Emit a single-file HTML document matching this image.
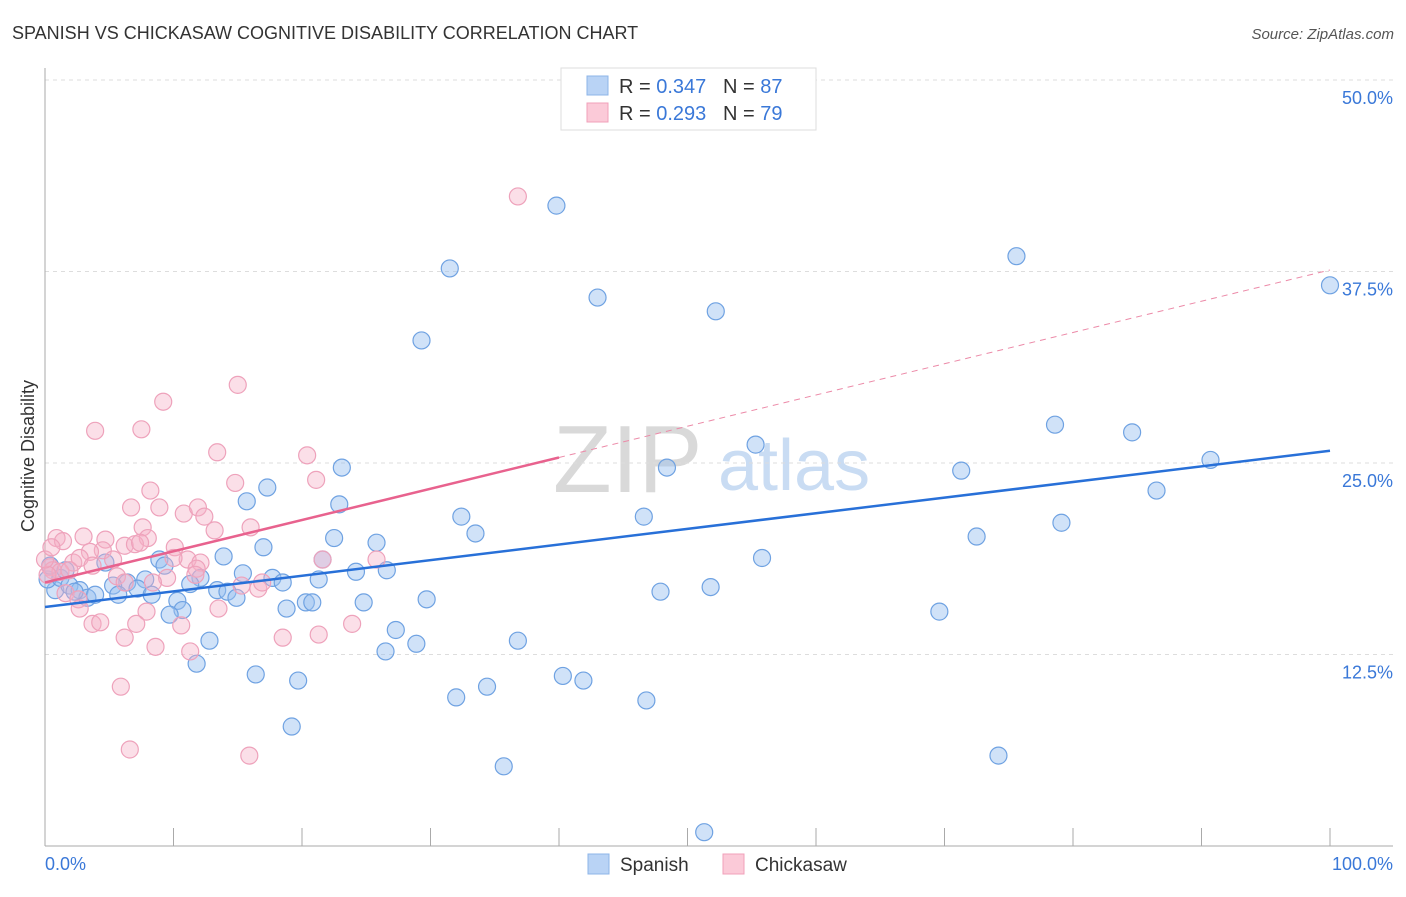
<!DOCTYPE html>
<html><head><meta charset="utf-8"><style>
body{margin:0;background:#fff;font-family:"Liberation Sans",sans-serif}
svg text{font-family:"Liberation Sans",sans-serif}
</style></head><body>
<svg id="chart" width="1406" height="892" xmlns="http://www.w3.org/2000/svg">
<text x="12" y="39" font-size="18" fill="#333">SPANISH VS CHICKASAW COGNITIVE DISABILITY CORRELATION CHART</text>
<text x="1394" y="39" font-size="15" fill="#555" font-style="italic" text-anchor="end">Source: ZipAtlas.com</text>
<g>
<text x="553" y="492" font-size="96" font-family="Liberation Serif" fill="#d9d9d9">ZIP</text>
<text x="718" y="490" font-size="72" fill="#c9dcf3">atlas</text>
</g>
<g id="grid"></g>
<g id="axes"></g>
<g id="marks"></g>
<text transform="translate(34,456) rotate(-90)" font-size="18" fill="#333" text-anchor="middle">Cognitive Disability</text>
<g>
<rect x="561" y="68" width="255" height="62" fill="#fff" stroke="#ddd"/>
<rect x="587" y="76" width="21" height="19" fill="#b9d3f5" stroke="#8db4e8"/>
<text x="619" y="93" font-size="20" fill="#333">R = <tspan fill="#3a78d8">0.347</tspan>&#160;&#160;&#160;N = <tspan fill="#3a78d8">87</tspan></text>
<rect x="587" y="103" width="21" height="19" fill="#fbcad8" stroke="#f0a0ba"/>
<text x="619" y="120" font-size="20" fill="#333">R = <tspan fill="#3a78d8">0.293</tspan>&#160;&#160;&#160;N = <tspan fill="#3a78d8">79</tspan></text>
</g>
<g>
<rect x="588" y="854" width="21" height="20" fill="#b9d3f5" stroke="#8db4e8"/>
<text x="620" y="871" font-size="19" fill="#333">Spanish</text>
<rect x="723" y="854" width="21" height="20" fill="#fbcad8" stroke="#f0a0ba"/>
<text x="755" y="871" font-size="19" fill="#333">Chickasaw</text>
</g>
</svg>
<script>
const yTicks=[12.5,25,37.5,50];
const yTickLabels=["12.5%","25.0%","37.5%","50.0%"];
const xTickLabels=["0.0%","100.0%"];
const spanishX=[39.8,31.5,75.6,43.0,52.2,100,29.3,78.6,84.6,55.3,90.7,23.1,48.4,71.3,86.5,17.3,15.7,22.9,32.4,46.6,79.1,33.5,22.5,72.5,25.8,17.0,13.9,55.8,8.9,21.6,4.7,9.3,24.2,26.6,15.4,12.1,17.7,21.3,18.5,7.8,6.4,5.3,11.3,13.4,7.2,51.8,5.7,8.3,14.2,47.9,14.9,10.3,20.3,20.8,24.8,29.7,18.8,10.7,9.7,69.6,27.3,12.8,36.8,28.9,26.5,11.8,16.4,40.3,41.9,19.7,34.4,32.0,46.8,19.2,74.2,35.7,51.3,0.8,0.2,1.2,1.9,2.7,3.3,3.9,0.4,1.6,2.3];
const spanishY=[41.8,37.7,38.5,35.8,34.9,36.6,33.0,27.5,27.0,26.2,25.2,24.7,24.7,24.5,23.2,23.4,22.5,22.3,21.5,21.5,21.1,20.4,20.1,20.2,19.8,19.5,18.9,18.8,18.7,18.7,18.5,18.3,17.9,18.0,17.8,17.5,17.5,17.4,17.2,17.4,17.2,17.0,17.1,16.7,16.8,16.9,16.4,16.4,16.6,16.6,16.2,16.0,15.9,15.9,15.9,16.1,15.5,15.4,15.1,15.3,14.1,13.4,13.4,13.2,12.7,11.9,11.2,11.1,10.8,10.8,10.4,9.7,9.5,7.8,5.9,5.2,0.9,16.7,17.4,17.5,17.0,16.7,16.2,16.4,18.3,18.0,16.6];
const chickasawX=[36.8,15.0,9.2,3.9,7.5,13.4,20.4,14.8,21.1,6.7,8.2,8.9,10.8,11.9,12.4,13.2,16.0,7.6,8.0,3.0,0.9,1.4,4.7,4.5,6.2,7.0,7.4,10.1,3.5,11.1,12.1,10.0,2.2,2.7,5.3,11.8,9.5,11.7,8.4,21.6,25.8,0.4,0.6,1.2,1.9,3.7,5.6,6.2,15.3,16.6,16.9,1.6,2.6,2.7,7.9,13.5,3.7,4.3,7.1,10.6,6.2,8.6,11.3,18.5,21.3,23.9,5.9,6.6,15.9,0.2,0.0,0.5];
const chickasawY=[42.4,30.1,29.0,27.1,27.2,25.7,25.5,23.7,23.9,22.1,23.2,22.1,21.7,22.1,21.5,20.6,20.8,20.8,20.1,20.2,20.1,19.9,20.0,19.3,19.6,19.7,19.8,19.5,19.2,18.7,18.5,18.8,18.5,18.8,18.7,18.1,17.5,17.7,17.2,18.7,18.7,18.2,18.0,17.9,18.0,18.3,17.6,17.2,17.0,16.8,17.2,16.5,16.1,15.5,15.3,15.5,14.5,14.6,14.5,14.4,13.6,13.0,12.7,13.6,13.8,14.5,10.4,6.3,5.9,17.7,18.7,19.5];
const spanishTrend=[15.6,25.8];
const chickasawTrend=[17.2,37.6];
const chickasawSolidEnd=40;

const NS="http://www.w3.org/2000/svg";
const X0=45,X1=1330,Y0=846,Y50=80;
const sx=v=>X0+(X1-X0)*v/100;
const sy=v=>Y0-(Y0-Y50)*v/50;
function mk(tag,attrs,parent){const e=document.createElementNS(NS,tag);for(const k in attrs)e.setAttribute(k,attrs[k]);parent.appendChild(e);return e;}
const grid=document.getElementById('grid'),axes=document.getElementById('axes'),marks=document.getElementById('marks');
yTicks.forEach((t,i)=>{
  const l=mk('line',{x1:X0,x2:1393,y1:sy(t),y2:sy(t),stroke:'#ddd','stroke-dasharray':'4,4'},grid);
  
  
  const tx=mk('text',{x:1393,y:sy(t)+24,'font-size':18,fill:'#3a78d8','text-anchor':'end'},axes);
  tx.textContent=yTickLabels[i];
  
  
});
const ya=mk('line',{x1:X0,x2:X0,y1:68,y2:Y0,stroke:'#aaa'},axes);


const xa=mk('line',{x1:X0,x2:1393,y1:Y0,y2:Y0,stroke:'#aaa'},axes);


for(let i=1;i<=10;i++){
  const t=mk('line',{x1:sx(i*10),x2:sx(i*10),y1:828,y2:Y0,stroke:'#aaa'},axes);
  
  
}
const xl0=mk('text',{x:X0,y:870,'font-size':18,fill:'#3a78d8'},axes);xl0.textContent=xTickLabels[0];


const xl1=mk('text',{x:1393,y:870,'font-size':18,fill:'#3a78d8','text-anchor':'end'},axes);xl1.textContent=xTickLabels[1];



spanishX.forEach((x,i)=>{
  const c=mk('circle',{cx:sx(x),cy:sy(spanishY[i]),r:8.5,fill:'rgba(150,190,240,0.45)',stroke:'#6fa2e2','stroke-width':1.2},marks);
  
  
});
chickasawX.forEach((x,i)=>{
  const c=mk('circle',{cx:sx(x),cy:sy(chickasawY[i]),r:8.5,fill:'rgba(246,175,198,0.4)',stroke:'#eea2bb','stroke-width':1.2},marks);
  
  
});
const pAt=x=>chickasawTrend[0]+(chickasawTrend[1]-chickasawTrend[0])*x/100;
const pd=mk('line',{x1:sx(chickasawSolidEnd),y1:sy(pAt(chickasawSolidEnd)),x2:sx(100),y2:sy(pAt(100)),stroke:'#ec8aa8','stroke-width':1,'stroke-dasharray':'6,5'},marks);


const ps=mk('line',{x1:sx(0),y1:sy(pAt(0)),x2:sx(chickasawSolidEnd),y2:sy(pAt(chickasawSolidEnd)),stroke:'#e8628e','stroke-width':2.5},marks);


const bl=mk('line',{x1:sx(0),y1:sy(spanishTrend[0]),x2:sx(100),y2:sy(spanishTrend[1]),stroke:'#2870d8','stroke-width':2.5},marks);


</script>
</body></html>
